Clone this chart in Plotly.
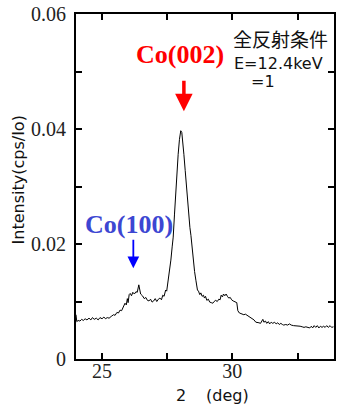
import plotly.graph_objects as go

two_theta = [
    24.00, 24.03, 24.08, 24.15, 24.22, 24.28, 24.35, 24.42, 24.50, 24.57,
    24.63, 24.70, 24.78, 24.85, 24.92, 25.00, 25.07, 25.13, 25.20, 25.27,
    25.35, 25.44, 25.50, 25.57, 25.63, 25.69, 25.75, 25.82, 25.88, 25.93,
    25.97, 26.00, 26.04, 26.08, 26.13, 26.18, 26.24, 26.30, 26.35, 26.41,
    26.44, 26.48, 26.55, 26.62, 26.68, 26.74, 26.80, 26.86, 26.92, 26.98,
    27.04, 27.10, 27.16, 27.22, 27.28, 27.33, 27.38, 27.44, 27.48, 27.52,
    27.56, 27.60, 27.64, 27.69, 27.73, 27.78, 27.83, 27.88, 27.92, 27.97,
    28.02, 28.06, 28.10, 28.14, 28.19, 28.24, 28.29, 28.34, 28.37, 28.41,
    28.45, 28.50, 28.55, 28.60, 28.63, 28.66, 28.70, 28.75, 28.79, 28.84,
    28.89, 28.93, 28.97, 29.02, 29.08, 29.13, 29.19, 29.25, 29.30, 29.36,
    29.42, 29.48, 29.53, 29.57, 29.62, 29.66, 29.71, 29.76, 29.81, 29.86,
    29.92, 29.97, 30.03, 30.08, 30.13, 30.17, 30.21, 30.27, 30.33, 30.38,
    30.44, 30.50, 30.57, 30.63, 30.70, 30.76, 30.83, 30.90, 30.95, 31.02,
    31.08, 31.13, 31.17, 31.21, 31.27, 31.32, 31.38, 31.43, 31.49, 31.55,
    31.62, 31.68, 31.74, 31.80, 31.86, 31.92, 31.97, 32.05, 32.12, 32.19,
    32.26, 32.35, 32.43, 32.52, 32.60, 32.68, 32.75, 32.82, 32.90, 32.97,
    33.03, 33.08, 33.14, 33.20, 33.26, 33.32, 33.38, 33.44, 33.50, 33.56,
    33.62, 33.68, 33.75, 33.81, 33.88,
]

intensity = [
    0.0077, 0.0065, 0.0067, 0.0066, 0.0069, 0.0067, 0.0070, 0.0068, 0.0071, 0.0068,
    0.0072, 0.0069, 0.0071, 0.0068, 0.0072, 0.0070, 0.0073, 0.0070, 0.0072, 0.0071,
    0.0074, 0.0077, 0.0076, 0.0081, 0.0080, 0.0085, 0.0084, 0.0090, 0.0097, 0.0094,
    0.0105, 0.0098, 0.0112, 0.0114, 0.0110, 0.0116, 0.0113, 0.0117, 0.0116, 0.0129,
    0.0118, 0.0113, 0.0110, 0.0105, 0.0107, 0.0102, 0.0101, 0.0104, 0.0099, 0.0101,
    0.0105, 0.0100, 0.0104, 0.0106, 0.0103, 0.0111, 0.0109, 0.0120, 0.0118, 0.0131,
    0.0143, 0.0152, 0.0172, 0.0195, 0.0212, 0.0252, 0.0298, 0.0336, 0.0356, 0.0382,
    0.0397, 0.0394, 0.0378, 0.0356, 0.0328, 0.0298, 0.0268, 0.0241, 0.0229, 0.0215,
    0.0195, 0.0172, 0.0152, 0.0137, 0.0128, 0.0120, 0.0118, 0.0112, 0.0115, 0.0109,
    0.0111, 0.0106, 0.0109, 0.0102, 0.0104, 0.0099, 0.0098, 0.0097, 0.0100, 0.0102,
    0.0100, 0.0104, 0.0103, 0.0111, 0.0108, 0.0113, 0.0110, 0.0113, 0.0109, 0.0106,
    0.0107, 0.0103, 0.0101, 0.0100, 0.0100, 0.0098, 0.0084, 0.0080, 0.0079, 0.0078,
    0.0077, 0.0078, 0.0076, 0.0074, 0.0072, 0.0071, 0.0068, 0.0064, 0.0063, 0.0063,
    0.0062, 0.0065, 0.0069, 0.0064, 0.0066, 0.0062, 0.0065, 0.0061, 0.0064, 0.0062,
    0.0064, 0.0061, 0.0063, 0.0060, 0.0062, 0.0060, 0.0059, 0.0060, 0.0059, 0.0061,
    0.0059, 0.0058, 0.0058, 0.0057, 0.0057, 0.0056, 0.0055, 0.0056, 0.0055, 0.0054,
    0.0057, 0.0054, 0.0058, 0.0055, 0.0058, 0.0054, 0.0057, 0.0055, 0.0057, 0.0055,
    0.0058, 0.0055, 0.0058, 0.0055, 0.0056,
]

x_tick_vals = [25, 30]
x_tick_text = ["25", "30"]
y_tick_vals = [0, 0.02, 0.04, 0.06]
y_tick_text = ["0", "0.02", "0.04", "0.06"]

SERIF = "Liberation Serif, Times New Roman, serif"
SANS = "DejaVu Sans, Arial, sans-serif"
CJK = "Noto Sans CJK JP, Noto Sans CJK SC, sans-serif"

fig = go.Figure()
fig.add_trace(go.Scatter(
    x=two_theta, y=intensity, mode="lines",
    line=dict(color="black", width=1), showlegend=False, hoverinfo="skip",
))

axis_common = dict(
    showline=True, linecolor="black", linewidth=2, mirror="ticks",
    ticks="inside", ticklen=6, tickwidth=1.5, tickcolor="black",
    showgrid=False, zeroline=False,
    tickfont=dict(family=SERIF, size=20, color="#222"),
)

fig.update_xaxes(
    range=[24.0, 33.9], tickmode="array", tickvals=x_tick_vals, ticktext=x_tick_text,
    minor=dict(tick0=25, dtick=2.5, ticks="inside", ticklen=6, tickwidth=1.5,
               tickcolor="black", showgrid=False),
    ticklabelstandoff=-7,
    **axis_common,
)
fig.update_yaxes(
    range=[0, 0.06], tickmode="array", tickvals=y_tick_vals, ticktext=y_tick_text,
    minor=dict(tick0=0, dtick=0.01, ticks="inside", ticklen=6, tickwidth=1.5,
               tickcolor="black", showgrid=False),
    ticklabelstandoff=4,
    **axis_common,
)

annotations = [
    # Co(002) label and arrow
    dict(x=27.98, y=0.0530, xref="x", yref="y", text="<b>Co(002)</b>", showarrow=False,
         font=dict(family=SERIF, size=26, color="#ff0000")),
    dict(x=28.14, y=0.0431, xref="x", yref="y", text="", showarrow=True,
         ax=0, ay=-32, arrowhead=2, arrowwidth=3.5, arrowsize=1.0, arrowcolor="#ff0000"),
    # Co(100) label and arrow
    dict(x=26.04, y=0.0234, xref="x", yref="y", text="<b>Co(100)</b>", showarrow=False,
         font=dict(family=SERIF, size=26, color="#3c46d2")),
    dict(x=26.20, y=0.0158, xref="x", yref="y", text="", showarrow=True,
         ax=0, ay=-30, arrowhead=2, arrowwidth=1.8, arrowsize=1.3, arrowcolor="#0000ff"),
    # condition text
    dict(x=31.83, y=0.0558, xref="x", yref="y", text="全反射条件", showarrow=False,
         font=dict(family=CJK, size=19, color="#111")),
    dict(x=31.76, y=0.0514, xref="x", yref="y", text="E=12.4keV", showarrow=False,
         font=dict(family=SANS, size=16, color="#111")),
    dict(x=31.17, y=0.0482, xref="x", yref="y", text="=1", showarrow=False,
         font=dict(family=SANS, size=16, color="#111")),
    # axis titles
    dict(x=-0.223, y=0.519, xref="paper", yref="paper", text="Intensity(cps/Io)",
         xanchor="center", yanchor="middle",
         textangle=-90, showarrow=False, font=dict(family=SANS, size=16, color="#111")),
    dict(x=(182 - 76) / 260, y=-(396 - 359) / 347, xref="paper", yref="paper", text="2",
         xanchor="center", yanchor="middle",
         showarrow=False, font=dict(family=SANS, size=16, color="#111")),
    dict(x=(228.5 - 76) / 260, y=-(396 - 359) / 347, xref="paper", yref="paper", text="(deg)",
         xanchor="center", yanchor="middle",
         showarrow=False, font=dict(family=SANS, size=16, color="#111")),
]

fig.update_layout(
    width=339, height=412,
    margin=dict(l=76, r=3, t=12, b=53),
    paper_bgcolor="white", plot_bgcolor="white",
    annotations=annotations,
    showlegend=False,
)

fig.write_html("out.html")
